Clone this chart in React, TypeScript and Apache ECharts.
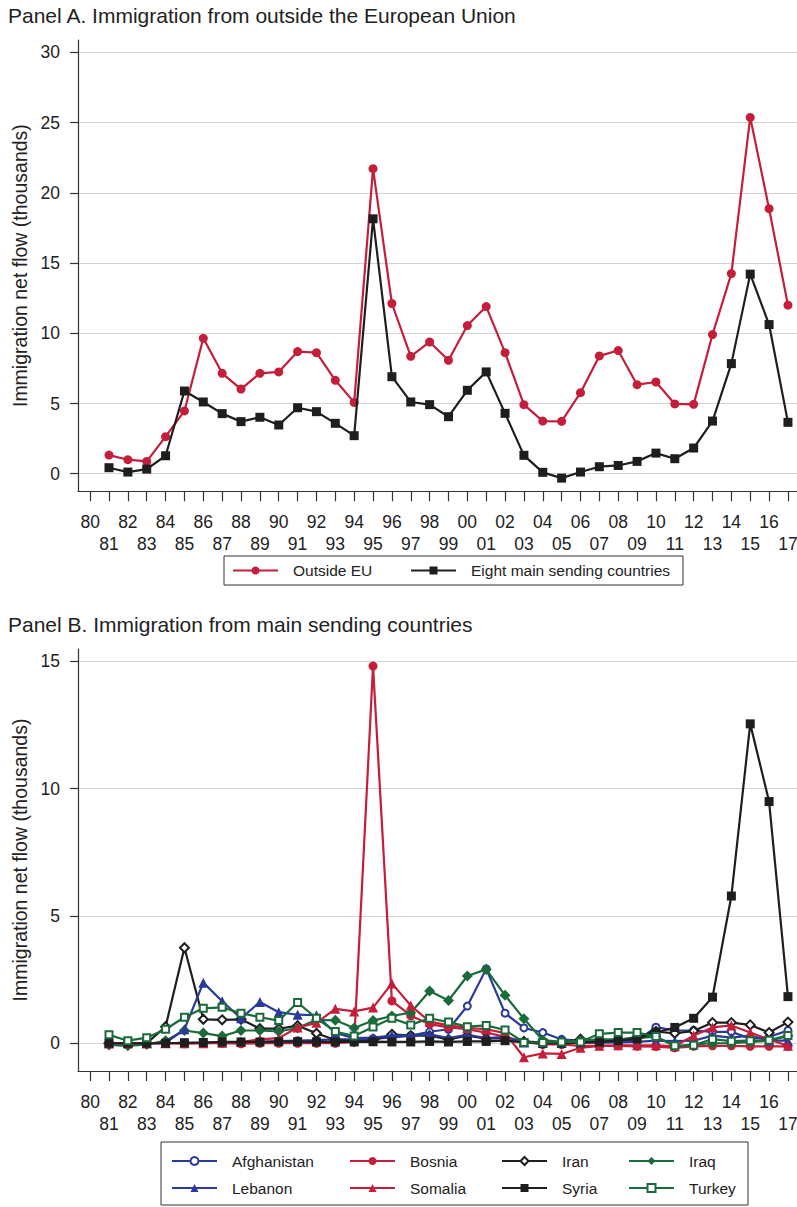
import { useEffect, useRef } from "react";
import * as echarts from "echarts";

// Years with data (1981–2017) and the tick years along the x axis (1980–2017)
const years = [
  1981, 1982, 1983, 1984, 1985, 1986, 1987, 1988, 1989, 1990, 1991, 1992, 1993,
  1994, 1995, 1996, 1997, 1998, 1999, 2000, 2001, 2002, 2003, 2004, 2005, 2006,
  2007, 2008, 2009, 2010, 2011, 2012, 2013, 2014, 2015, 2016, 2017,
];
const tickYears = [1980, ...years];
const evenYears = tickYears.filter((y) => y % 2 === 0);
const oddYears = tickYears.filter((y) => y % 2 === 1);
const yTicksA = [0, 5, 10, 15, 20, 25, 30];
const yTicksB = [0, 5, 10, 15];

// Panel A: net flows, thousands
const outsideEU = [
  1.33, 1.0, 0.88, 2.64, 4.47, 9.64, 7.15, 6.03, 7.15, 7.25, 8.7, 8.62, 6.65,
  5.08, 21.72, 12.12, 8.36, 9.38, 8.08, 10.55, 11.9, 8.62, 4.92, 3.75, 3.73,
  5.77, 8.39, 8.77, 6.34, 6.53, 4.97, 4.94, 9.91, 14.25, 25.37, 18.87, 12.0,
];
const eightMain = [
  0.43, 0.12, 0.33, 1.28, 5.89, 5.11, 4.28, 3.71, 4.02, 3.47, 4.7, 4.42, 3.59,
  2.71, 18.15, 6.91, 5.11, 4.92, 4.06, 5.94, 7.25, 4.3, 1.31, 0.1, -0.31, 0.12,
  0.5, 0.59, 0.88, 1.47, 1.07, 1.83, 3.75, 7.84, 14.21, 10.62, 3.66,
];

// Panel B: net flows by country, thousands
const afghanistan = [
  0, 0, 0, 0, 0.02, 0.03, 0.03, 0.05, 0.05, 0.08, 0.1, 0.12, 0.15, 0.15, 0.18,
  0.22, 0.3, 0.45, 0.55, 1.46, 2.92, 1.18, 0.6, 0.42, 0.15, 0.09, 0.05, 0.05,
  0.1, 0.63, 0.5, 0.5, 0.45, 0.45, 0.18, 0.25, 0.5,
];
const lebanon = [
  0, 0, 0, 0.02, 0.55, 2.38, 1.65, 0.98, 1.62, 1.22, 1.12, 1.1, 0.4, 0.2, 0.22,
  0.3, 0.3, 0.35, 0.2, 0.33, 0.2, 0.25, 0.03, 0.02, 0.02, 0.02, 0.02, 0.03,
  0.05, 0.1, 0.08, 0.1, 0.3, 0.22, 0.3, 0.1, 0.1,
];
const bosnia = [
  0, 0, 0, 0, -0.02, 0, 0, -0.02, 0, 0, 0, 0, 0, 0.05, 14.81, 1.66, 1.08, 0.75,
  0.62, 0.55, 0.42, 0.25, 0.05, -0.05, -0.05, -0.1, -0.1, -0.1, -0.12, -0.13,
  -0.18, -0.12, -0.1, -0.1, -0.12, -0.12, -0.12,
];
const somalia = [
  0, 0, 0, 0, 0, 0, 0.02, 0.05, 0.15, 0.2, 0.62, 0.8, 1.35, 1.25, 1.4, 2.35,
  1.48, 0.85, 0.7, 0.6, 0.55, 0.4, -0.55, -0.4, -0.42, -0.18, -0.1, -0.08,
  -0.08, -0.08, -0.12, 0.3, 0.62, 0.7, 0.42, 0.15, -0.1,
];
const iran = [
  0, 0, 0, 0.65, 3.75, 0.94, 0.92, 0.94, 0.57, 0.57, 0.69, 0.39, 0.13, 0.07,
  0.1, 0.35, 0.3, 0.3, 0.15, 0.3, 0.18, 0.2, 0.07, 0.03, 0.03, 0.16, 0.07, 0.13,
  0.24, 0.46, 0.39, 0.48, 0.81, 0.81, 0.72, 0.42, 0.83,
];
const syria = [
  0, 0, 0, 0, 0.02, 0.03, 0.05, 0.05, 0.05, 0.06, 0.06, 0.05, 0.05, 0.05, 0.06,
  0.05, 0.05, 0.07, 0.05, 0.07, 0.07, 0.1, 0.03, 0, 0, 0.02, 0.05, 0.1, 0.17,
  0.42, 0.62, 0.98, 1.81, 5.78, 12.54, 9.49, 1.83,
];
const iraq = [
  -0.07, -0.1, -0.05, 0.1, 0.5, 0.4, 0.28, 0.5, 0.5, 0.46, 0.6, 0.92, 0.9, 0.6,
  0.89, 1.07, 1.2, 2.05, 1.68, 2.64, 2.9, 1.88, 0.96, 0.12, 0.05, 0.1, 0.15,
  0.15, 0.2, 0.26, -0.12, -0.05, 0, 0, 0.05, 0.1, 0.29,
];
const turkey = [
  0.33, 0.1, 0.22, 0.55, 1.02, 1.37, 1.41, 1.18, 1.02, 0.89, 1.6, 0.98, 0.46,
  0.28, 0.64, 0.98, 0.72, 0.98, 0.83, 0.65, 0.7, 0.52, 0.03, 0.03, 0.05, 0.05,
  0.37, 0.42, 0.42, 0.26, -0.1, -0.08, 0.16, 0.08, 0.1, 0.12, 0.3,
];

const FONT = '"Liberation Sans", Arial, Helvetica, sans-serif';
const TEXT = "#222";
const AXIS = "#333";
const GRID = "#d3d3d3";
const RED = "#c41e3a";
const BLUE = "#2a3a9a";
const GREEN = "#1b6b3a";
const BLACK = "#1e1e1e";

const X_MIN = 1979.356;
const X_MAX = 2017.48;

const pairs = (vals: number[]) => years.map((y, i) => [y, vals[i]]);
const twoDigits = (v: number) => String(Math.round(v) % 100).padStart(2, "0");

const labelStyle = {
  fontSize: 17.5,
  color: TEXT,
  fontFamily: FONT,
  formatter: twoDigits,
  showMinLabel: true,
  showMaxLabel: true,
};

// Main x axis: line, a tick every year, even-year labels on the first row
const xAxisMain = (gridIndex: number) => ({
  type: "value",
  gridIndex,
  position: "bottom",
  min: X_MIN,
  max: X_MAX,
  axisLine: { show: true, onZero: false, lineStyle: { color: AXIS, width: 1.2 } },
  axisTick: {
    show: true,
    customValues: tickYears,
    length: 10,
    lineStyle: { color: AXIS, width: 1.2 },
  },
  axisLabel: { ...labelStyle, customValues: evenYears, margin: 22 },
  splitLine: { show: false },
});

// Companion x axis carrying the odd-year labels on the second row
const xAxisOdd = (gridIndex: number) => ({
  type: "value",
  gridIndex,
  position: "bottom",
  offset: 0,
  min: X_MIN,
  max: X_MAX,
  axisLine: { show: false },
  axisTick: { show: false, customValues: oddYears },
  axisLabel: { ...labelStyle, customValues: oddYears, margin: 44 },
  splitLine: { show: false },
});

const yAxisFor = (gridIndex: number, min: number, max: number, ticks: number[]) => ({
  type: "value",
  gridIndex,
  min,
  max,
  axisLine: { show: true, onZero: false, lineStyle: { color: AXIS, width: 1.2 } },
  axisTick: {
    show: true,
    customValues: ticks,
    length: 8,
    lineStyle: { color: AXIS, width: 1.2 },
  },
  axisLabel: {
    customValues: ticks,
    fontSize: 17.5,
    margin: 18,
    color: TEXT,
    fontFamily: FONT,
  },
  splitLine: { show: true, lineStyle: { color: GRID, width: 1.2 } },
});

type SeriesDef = {
  name: string;
  values: number[];
  color: string;
  symbol: string;
  size: number;
  border: number;
  grid: number;
};

const seriesDefs: SeriesDef[] = [
  { name: "Outside EU", values: outsideEU, color: RED, symbol: "circle", size: 9, border: 0, grid: 0 },
  { name: "Eight main sending countries", values: eightMain, color: BLACK, symbol: "rect", size: 9, border: 0, grid: 0 },
  { name: "Afghanistan", values: afghanistan, color: BLUE, symbol: "emptyCircle", size: 7, border: 2.5, grid: 1 },
  { name: "Bosnia", values: bosnia, color: RED, symbol: "circle", size: 9, border: 0, grid: 1 },
  { name: "Iran", values: iran, color: BLACK, symbol: "emptyDiamond", size: 9, border: 2.5, grid: 1 },
  { name: "Iraq", values: iraq, color: GREEN, symbol: "diamond", size: 11, border: 0, grid: 1 },
  { name: "Lebanon", values: lebanon, color: BLUE, symbol: "triangle", size: 10, border: 0, grid: 1 },
  { name: "Somalia", values: somalia, color: RED, symbol: "triangle", size: 10, border: 0, grid: 1 },
  { name: "Syria", values: syria, color: BLACK, symbol: "rect", size: 9, border: 0, grid: 1 },
  { name: "Turkey", values: turkey, color: GREEN, symbol: "emptyRect", size: 7, border: 3, grid: 1 },
];

// Legend entries: [name, left of line, vertical centre of row]
const legendA: [string, number, number][] = [
  ["Outside EU", 232, 570.5],
  ["Eight main sending countries", 410, 570.5],
];
const legendB: [string, number, number][] = [
  ["Afghanistan", 171, 1161],
  ["Bosnia", 349, 1161],
  ["Iran", 501, 1161],
  ["Iraq", 628, 1161],
  ["Lebanon", 171, 1188],
  ["Somalia", 349, 1188],
  ["Syria", 501, 1188],
  ["Turkey", 628, 1188],
];

export default function App() {
  const ref = useRef<HTMLDivElement>(null);

  useEffect(() => {
    if (!ref.current) return;
    const chart = echarts.init(ref.current, undefined, { renderer: "svg" });

    const legends = [...legendA, ...legendB].map(([name, left, cy]) => ({
      data: [name],
      left,
      top: cy - 9,
      padding: 0,
      itemWidth: 45,
      itemHeight: 10,
      itemGap: 0,
      selectedMode: false,
      textStyle: {
        fontSize: 15.5,
        lineHeight: 18,
        color: TEXT,
        fontFamily: FONT,
        padding: [0, 0, 0, 10],
      },
    }));

    const yTitle = (y: number) => ({
      type: "text",
      x: 20,
      y,
      rotation: Math.PI / 2,
      style: {
        text: "Immigration net flow (thousands)",
        fontSize: 19.5,
        fontFamily: FONT,
        fill: TEXT,
        align: "center",
        verticalAlign: "middle",
      },
    });

    chart.setOption({
      animation: false,
      backgroundColor: "#fff",
      grid: [
        { left: 78, top: 40, width: 719, height: 451.3, containLabel: false, outerBoundsMode: "none" },
        { left: 78, top: 649, width: 719, height: 422, containLabel: false, outerBoundsMode: "none" },
      ],
      xAxis: [xAxisMain(0), xAxisOdd(0), xAxisMain(1), xAxisOdd(1)],
      yAxis: [yAxisFor(0, -1.25, 30.88, yTicksA), yAxisFor(1, -1.09, 15.48, yTicksB)],
      legend: legends,
      series: seriesDefs.map((d, i) => ({
        type: "line",
        name: d.name,
        xAxisIndex: d.grid === 0 ? 0 : 2,
        yAxisIndex: d.grid,
        data: pairs(d.values),
        symbol: d.symbol,
        symbolSize: d.size,
        showSymbol: true,
        z: 2 + i * 0.01,
        lineStyle: { color: d.color, width: 2.2 },
        itemStyle: { color: d.color, borderWidth: d.border },
      })),
      graphic: [
        {
          type: "text",
          left: 8,
          top: 5,
          style: {
            text: "Panel A. Immigration from outside the European Union",
            fontSize: 21,
            fontFamily: FONT,
            fill: TEXT,
          },
        },
        {
          type: "text",
          left: 8,
          top: 614,
          style: {
            text: "Panel B. Immigration from main sending countries",
            fontSize: 21,
            fontFamily: FONT,
            fill: TEXT,
          },
        },
        yTitle(265.6),
        yTitle(860),
        {
          type: "rect",
          shape: { x: 224, y: 556, width: 459, height: 29 },
          style: { fill: "none", stroke: AXIS, lineWidth: 1 },
        },
        {
          type: "rect",
          shape: { x: 161, y: 1142, width: 587, height: 63 },
          style: { fill: "none", stroke: AXIS, lineWidth: 1 },
        },
      ],
    });

    return () => chart.dispose();
  }, []);

  return (
    <div
      ref={ref}
      style={{ position: "absolute", left: 0, top: 0, width: 797, height: 1207 }}
    />
  );
}
